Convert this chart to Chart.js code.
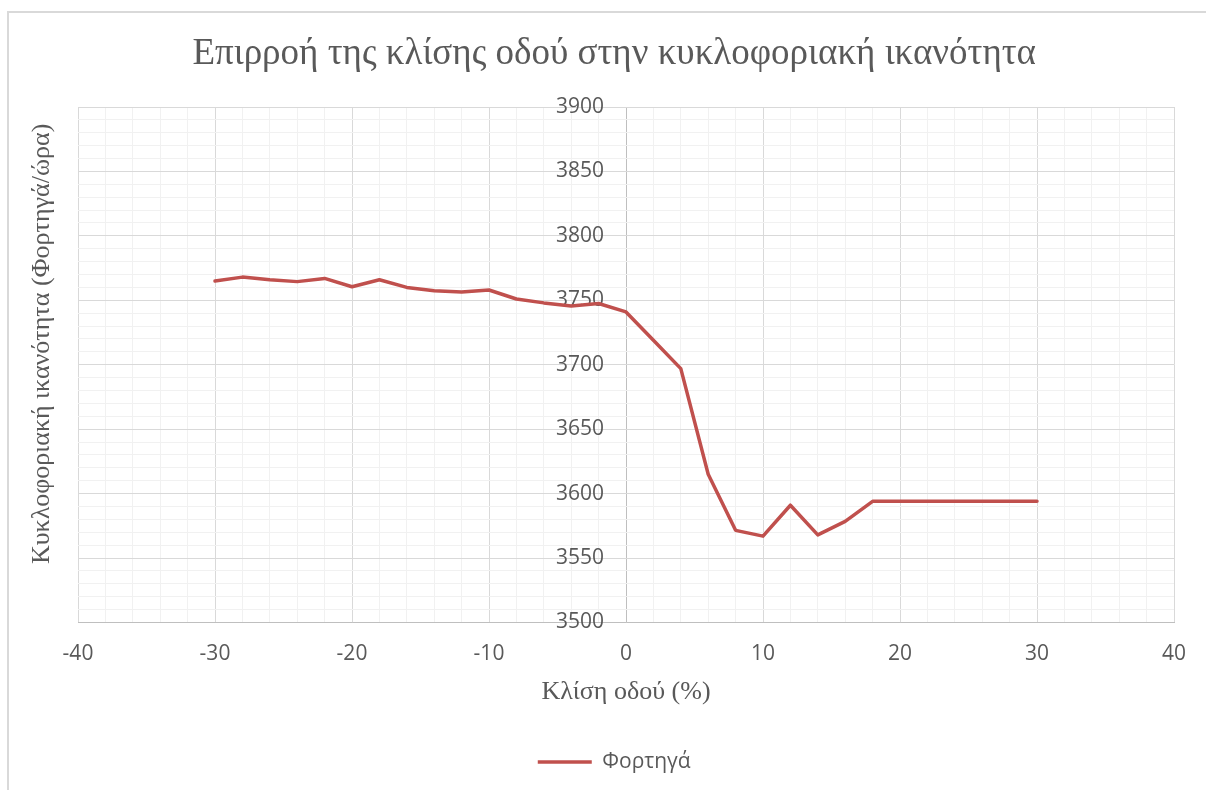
<!DOCTYPE html>
<html>
<head>
<meta charset="utf-8">
<script src="https://cdn.jsdelivr.net/npm/chart.js@4"></script>
<style>
  html, body { margin: 0; padding: 0; background: #ffffff; overflow: hidden; }
  #frame { position: absolute; left: 7px; top: 11px; width: 1300px; height: 900px; border: 2px solid #d9d9d9; }
  #wrap { position: absolute; left: 0; top: 0; width: 1206px; height: 790px; }
</style>
</head>
<body>
<div id="frame"></div>
<div id="wrap"><canvas id="chart" width="1206" height="790"></canvas></div>
<script>
// Road gradient (%) and truck capacity (trucks/hour)
const slopes = [-30, -28, -26, -24, -22, -20, -18, -16, -14, -12, -10, -8, -6, -4, -2,
                0, 2, 4, 6, 8, 10, 12, 14, 16, 18, 20, 22, 24, 26, 28, 30];
const trucks = [3765, 3768, 3766, 3764.5, 3767, 3760.5, 3766, 3760, 3757.5, 3756.5, 3758, 3751, 3748, 3745.5, 3747.5,
                3741, 3719, 3697, 3615, 3571.5, 3567, 3591, 3568, 3578.5, 3594, 3594, 3594, 3594, 3594, 3594, 3594];

const xRange = [-40, 40];
const yRange = [3500, 3900];
const xMajor = 10, xMinor = 2;
const yMajor = 50, yMinor = 10;

const titleText = 'Επιρροή της κλίσης οδού στην κυκλοφοριακή ικανότητα';
const xTitle = 'Κλίση οδού (%)';
const yTitle = 'Κυκλοφοριακή ικανότητα (Φορτηγά/ώρα)';
const seriesName = 'Φορτηγά';

const textGrey = '#595959';
const majorGrid = '#d9d9d9';
const minorGrid = '#f1f1f1';
const axisLine = '#bfbfbf';
const lineRed = '#c0504d';

const serif = "'Liberation Serif', 'Times New Roman', serif";
const sans = "'Open Sans', 'Noto Sans', sans-serif";

// The value axis crosses the category axis at x = 0; its labels sit just left of it.
const yCross = 0;
const yLabelAt = -1.6;

const points = slopes.map((s, i) => ({ x: s, y: trucks[i] }));

const isMajor = (v, step) => Math.abs(v / step - Math.round(v / step)) < 1e-6;

// An empty side axis used only to reserve room
const spacer = (position, extra) => Object.assign({
  type: 'linear',
  position,
  min: yRange[0],
  max: yRange[1],
  ticks: { display: false },
  grid: { display: false, drawTicks: false },
  border: { display: false },
  title: { display: false }
}, extra);

new Chart(document.getElementById('chart'), {
  type: 'line',
  data: {
    datasets: [{
      label: seriesName,
      data: points,
      borderColor: lineRed,
      backgroundColor: lineRed,
      borderWidth: 3.5,
      borderCapStyle: 'round',
      borderJoinStyle: 'round',
      pointRadius: 0,
      pointHoverRadius: 0,
      tension: 0,
      xAxisID: 'x',
      yAxisID: 'y'
    }]
  },
  options: {
    responsive: false,
    animation: false,
    events: [],
    layout: { padding: { left: 22.4, right: 0, top: 0, bottom: 7.5 } },
    plugins: {
      title: {
        display: true,
        text: titleText,
        color: textGrey,
        font: { family: serif, size: 37, weight: 'normal' },
        padding: { top: 31.8, bottom: 30.8 }
      },
      legend: {
        display: true,
        position: 'bottom',
        labels: {
          color: textGrey,
          font: { family: sans, size: 21 },
          usePointStyle: true,
          pointStyle: 'line',
          pointStyleWidth: 54,
          boxHeight: 4,
          padding: 10
        }
      },
      tooltip: { enabled: false }
    },
    scales: {
      x: {
        type: 'linear',
        position: 'bottom',
        min: xRange[0],
        max: xRange[1],
        ticks: {
          stepSize: xMinor,
          autoSkip: false,
          maxRotation: 0,
          color: textGrey,
          font: { family: sans, size: 21 },
          padding: 18.7,
          callback: v => isMajor(v, xMajor) ? String(v) : ''
        },
        grid: {
          drawTicks: false,
          lineWidth: 1,
          color: ctx => ctx.tick.value === yCross ? axisLine
            : (isMajor(ctx.tick.value, xMajor) ? majorGrid : minorGrid)
        },
        border: { display: true, color: axisLine, width: 1 },
        title: {
          display: true,
          text: xTitle,
          color: textGrey,
          font: { family: serif, size: 26 },
          padding: { top: -8.7, bottom: 33.9 }
        }
      },
      y: {
        type: 'linear',
        position: { x: yLabelAt },
        min: yRange[0],
        max: yRange[1],
        ticks: {
          stepSize: yMinor,
          autoSkip: false,
          color: textGrey,
          font: { family: sans, size: 21 },
          callback: v => isMajor(v, yMajor) ? String(v) : ''
        },
        grid: {
          drawTicks: false,
          lineWidth: 1,
          color: ctx => isMajor(ctx.tick.value, yMajor) ? majorGrid : minorGrid
        },
        border: { display: false }
      },
      yTitleBelow: spacer('left', { stack: 'leftTitle', stackWeight: 0.081 }),
      yTitleAxis: spacer('left', {
        stack: 'leftTitle',
        stackWeight: 0.919,
        title: {
          display: true,
          text: yTitle,
          color: textGrey,
          font: { family: serif, size: 26 },
          padding: { top: 4, bottom: 20.4 }
        }
      }),
      yRightRoom: spacer('right', { afterFit: scale => { scale.width = 32; } })
    }
  }
});
</script>
</body>
</html>
